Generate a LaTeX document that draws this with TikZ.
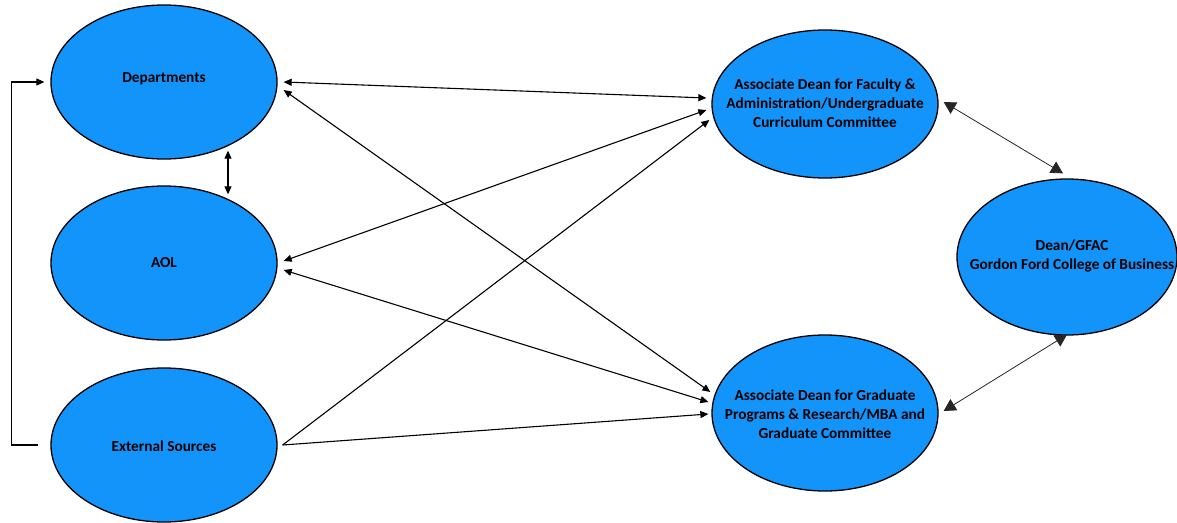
\documentclass[tikz,border=0pt]{standalone}
\usepackage{fontspec}
\setmainfont{Carlito}
\usetikzlibrary{shapes.geometric,arrows.meta,calc}
\definecolor{nodeblue}{RGB}{18,148,250}
\begin{document}
\begin{tikzpicture}[x=1pt,y=-1pt,
  oval/.style={ellipse,draw=black,line width=1.3pt,fill=nodeblue,inner sep=0pt},
  lbl/.style={align=center,inner sep=0pt,font=\fontsize{15.3}{19}\selectfont\bfseries},
  arr/.style={line width=1.1pt,draw=black,-{Triangle[length=8pt,width=7pt]}},
  darr/.style={arr,{Triangle[length=8pt,width=7pt]}-{Triangle[length=8pt,width=7pt]}},
  bigarr/.style={line width=0.8pt,draw=black!85,{Triangle[length=12pt,width=13pt]}-{Triangle[length=12pt,width=13pt]}}]
\useasboundingbox (0,0) rectangle (1177,522);
\node[oval,minimum width=226pt,minimum height=154pt] (dep) at (164,82) {};
\node[oval,minimum width=226pt,minimum height=154pt] (aol) at (164,263) {};
\node[oval,minimum width=226pt,minimum height=154pt] (ext) at (164,445) {};
\node[oval,minimum width=226pt,minimum height=148pt] (af) at (825,104) {};
\node[oval,minimum width=226pt,minimum height=156pt] (ag) at (825,413) {};
\node[oval,minimum width=220pt,minimum height=156pt] (dean) at (1067,257) {};
\node[lbl] (dep-t) at ($(dep.center)+(0,-3)$) {Departments};
\node[lbl] (aol-t) at (aol.center) {AOL};
\node[lbl] (ext-t) at ($(ext.center)+(0,1)$) {External Sources};
\node[lbl] (af-t) at ($(af.center)+(0,-1)$) {Associate Dean for Faculty \&\\Administration/Undergraduate\\Curriculum Committee};
\node[lbl] (ag-t) at ($(ag.center)+(0,1)$) {Associate Dean for Graduate\\Programs \& Research/MBA and\\Graduate Committee};
\node[lbl] (dean-t) at ($(dean.center)+(5,-1)$) {Dean/GFAC\\Gordon Ford College of Business};
% left loop
\draw[arr] ($(ext.west)+(-12,0)$) -- ++(-27,0) |- ($(dep.west)+(-6,0)$);
% dep <-> aol
\draw[darr] ($(dep.south)+(64,-9)$) -- ($(aol.north)+(64,9)$);
% cross connectors
\draw[darr] ($(dep.east)+(6,0)$) -- ($(af.west)+(-5,-6)$);
\draw[darr] ($(dep.east)+(6,8)$) -- ($(ag.west)+(-1,-21)$);
\draw[darr] ($(aol.east)+(6,-2)$) -- ($(af.west)+(-5,6)$);
\draw[darr] ($(aol.east)+(6,7)$) -- ($(ag.west)+(-3,-11)$);
\draw[arr] ($(ext.east)+(5,0)$) -- ($(af.west)+(-2,16)$);
\draw[arr] ($(ext.east)+(5,0)$) -- ($(ag.west)+(-3,1)$);
% dean connectors
\draw[bigarr] ($(af.east)+(5,-2)$) -- ($(dean.north)+(-4,-5)$);
\draw[bigarr] ($(ag.east)+(5,-2)$) -- ($(dean.south)+(0,-1)$);
\end{tikzpicture}
\end{document}
